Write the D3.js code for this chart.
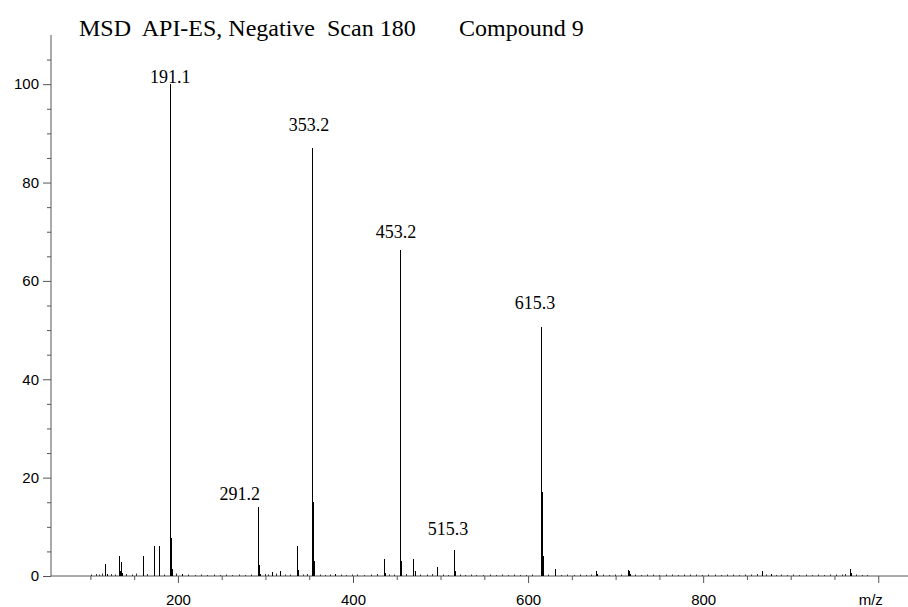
<!DOCTYPE html>
<html>
<head>
<meta charset="utf-8">
<script src="https://cdn.jsdelivr.net/npm/d3@7"></script>
<style>
  html, body { margin: 0; padding: 0; background: #fff; }
  svg { display: block; }
</style>
</head>
<body>
<div id="main"></div>
<script>
// spectrum: m/z and relative abundance (%)
const peakMz = [117, 119, 133, 134, 135, 136, 160, 172.6, 178.7, 191.1, 192.1, 193.1, 205,
  291.2, 292.2, 293.2, 307, 317, 335.6, 336.6, 353.2, 354.2, 355.2, 379, 435, 436,
  453.2, 454.2, 455.2, 468.6, 471, 496, 515.3, 516.3, 615.3, 616.3, 617.3, 631, 678, 679,
  714, 715, 716, 867, 877, 968, 969];
const peakInt = [2.4, 0.5, 4.1, 1.0, 2.9, 0.6, 4.1, 6.1, 6.1, 100, 7.7, 1.5, 0.5,
  14.0, 2.2, 0.5, 0.8, 1.1, 6.0, 1.3, 87.0, 15.1, 3.0, 0.4, 3.4, 0.7,
  66.2, 14.1, 3.0, 3.4, 1.0, 1.9, 5.2, 1.0, 50.7, 17.1, 4.0, 1.4, 1.0, 0.4,
  1.2, 1.0, 0.5, 1.0, 0.5, 1.4, 0.6];

// baseline noise
const noiseMz = [101, 106, 110, 113, 124, 128, 141, 147, 152, 165, 184, 198, 212, 219, 226,
  233, 241, 248, 255, 262, 270, 277, 284, 299, 303, 312, 322, 328, 343, 348, 362, 368, 374,
  386, 392, 399, 405, 412, 420, 427, 441, 447, 461, 477, 484, 490, 503, 509, 522, 528, 535,
  541, 548, 556, 563, 570, 577, 584, 591, 598, 605, 623, 638, 645, 652, 659, 666, 672, 686,
  692, 699, 706, 722, 729, 736, 743, 750, 757, 764, 771, 778, 785, 792, 799, 806, 813, 820,
  827, 834, 841, 848, 855, 861, 872, 883, 889, 896, 903, 910, 917, 924, 931, 938, 945, 952,
  959, 962, 975, 981, 987];
const noiseInt = [0.3, 0.4, 0.3, 0.5, 0.4, 0.3, 0.4, 0.3, 0.5, 0.4, 0.3, 0.5, 0.3, 0.2, 0.3,
  0.2, 0.3, 0.2, 0.3, 0.2, 0.3, 0.2, 0.3, 0.4, 0.3, 0.5, 0.3, 0.3, 0.3, 0.4, 0.3, 0.2, 0.3,
  0.3, 0.2, 0.3, 0.3, 0.2, 0.3, 0.4, 0.3, 0.3, 0.4, 0.3, 0.3, 0.4, 0.3, 0.2, 0.3, 0.2, 0.3,
  0.2, 0.2, 0.3, 0.2, 0.3, 0.2, 0.3, 0.2, 0.2, 0.3, 0.3, 0.2, 0.3, 0.2, 0.3, 0.2, 0.3, 0.3,
  0.2, 0.3, 0.3, 0.3, 0.2, 0.3, 0.3, 0.2, 0.3, 0.3, 0.2, 0.3, 0.3, 0.3, 0.2, 0.3, 0.3, 0.2,
  0.3, 0.3, 0.2, 0.3, 0.3, 0.4, 0.3, 0.2, 0.3, 0.2, 0.3, 0.2, 0.3, 0.2, 0.3, 0.2, 0.3, 0.3,
  0.3, 0.4, 0.3, 0.2, 0.2];

const labelMz = [191.1, 353.2, 453.2, 615.3, 291.2, 515.3];
const labelInt = [100, 87.0, 66.2, 50.7, 14.0, 5.2];
const labelText = ["191.1", "353.2", "453.2", "615.3", "291.2", "515.3"];

const xMajorTicks = [200, 400, 600, 800, 1000];
const xMinorTicks = [100, 150, 250, 300, 350, 450, 500, 550, 650, 700, 750, 850, 900, 950];
const yMajorTicks = [0, 20, 40, 60, 80, 100];
const yMinorTicks = [5, 10, 15, 25, 30, 35, 45, 50, 55, 65, 70, 75, 85, 90, 95, 105];

const titleText = "MSD  API-ES, Negative  Scan 180";
const compoundText = "Compound 9";

const width = 908, height = 607;
const svg = d3.select('#main').append('svg')
  .attr('width', width)
  .attr('height', height);

const x = d3.scaleLinear().domain([55, 1034]).range([51, 908]);
const y = d3.scaleLinear().domain([0, 110]).range([576, 35]);

const serif = '"Liberation Serif", "Times New Roman", serif';
const sans = '"Liberation Sans", Arial, Helvetica, sans-serif';

// title
svg.append('text')
  .attr('x', 79).attr('y', 36)
  .style('white-space', 'pre')
  .attr('font-family', serif)
  .attr('font-size', 24)
  .text(titleText);
svg.append('text')
  .attr('x', 459).attr('y', 36)
  .attr('font-family', serif)
  .attr('font-size', 24)
  .text(compoundText);

// axes
const axisColor = '#555';
const xAxis = svg.append('g')
  .attr('transform', `translate(0,${y(0)})`)
  .call(d3.axisBottom(x).tickValues(xMajorTicks).tickSize(7).tickPadding(11)
    .tickFormat(d => d === 1000 ? 'm/z' : d));
xAxis.select('.domain').remove();
xAxis.selectAll('.tick text').filter(d => d === 1000).attr('dx', -8);
svg.append('g')
  .attr('transform', `translate(0,${y(0)})`)
  .call(d3.axisBottom(x).tickValues(xMinorTicks).tickSize(4).tickFormat(''))
  .select('.domain').remove();
svg.append('line')
  .attr('x1', x(55)).attr('x2', x(1034))
  .attr('y1', y(0)).attr('y2', y(0))
  .attr('stroke', axisColor);

const yAxis = svg.append('g')
  .attr('transform', `translate(${x(55)},0)`)
  .call(d3.axisLeft(y).tickValues(yMajorTicks).tickSize(8).tickPadding(4));
yAxis.select('.domain').remove();
svg.append('g')
  .attr('transform', `translate(${x(55)},0)`)
  .call(d3.axisLeft(y).tickValues(yMinorTicks).tickSize(4).tickFormat(''))
  .select('.domain').remove();
svg.append('line')
  .attr('x1', x(55)).attr('x2', x(55))
  .attr('y1', y(0)).attr('y2', y(110))
  .attr('stroke', axisColor);

svg.selectAll('.tick line').attr('stroke', axisColor);
svg.selectAll('.tick text')
  .attr('fill', '#000')
  .attr('font-family', sans)
  .attr('font-size', 15);

// noise + peaks
const noise = noiseMz.map((m, i) => ({ mz: m, v: noiseInt[i] }));
const peaks = peakMz.map((m, i) => ({ mz: m, v: peakInt[i] }));

svg.append('g').selectAll('line')
  .data(noise).enter().append('line')
  .attr('x1', d => Math.round(x(d.mz)) + 0.5)
  .attr('x2', d => Math.round(x(d.mz)) + 0.5)
  .attr('y1', y(0))
  .attr('y2', d => y(d.v))
  .attr('stroke', '#333')
  .attr('stroke-width', 1);

svg.append('g').selectAll('line')
  .data(peaks).enter().append('line')
  .attr('x1', d => Math.round(x(d.mz)) + 0.5)
  .attr('x2', d => Math.round(x(d.mz)) + 0.5)
  .attr('y1', y(0))
  .attr('y2', d => y(d.v))
  .attr('stroke', '#000')
  .attr('stroke-width', 1)
  .attr('shape-rendering', 'crispEdges');

// peak labels (offsets from the peak apex)
const labelDx = [0, -3, -3.5, -6.5, -18, -6];
const labelDy = [-1, -17, -12, -18, -7, -15];
svg.append('g').selectAll('text')
  .data(labelText).enter().append('text')
  .attr('x', (d, i) => x(labelMz[i]) + labelDx[i])
  .attr('y', (d, i) => y(labelInt[i]) + labelDy[i])
  .attr('text-anchor', 'middle')
  .attr('font-family', serif)
  .attr('font-size', 18)
  .text(d => d);
</script>
</body>
</html>
